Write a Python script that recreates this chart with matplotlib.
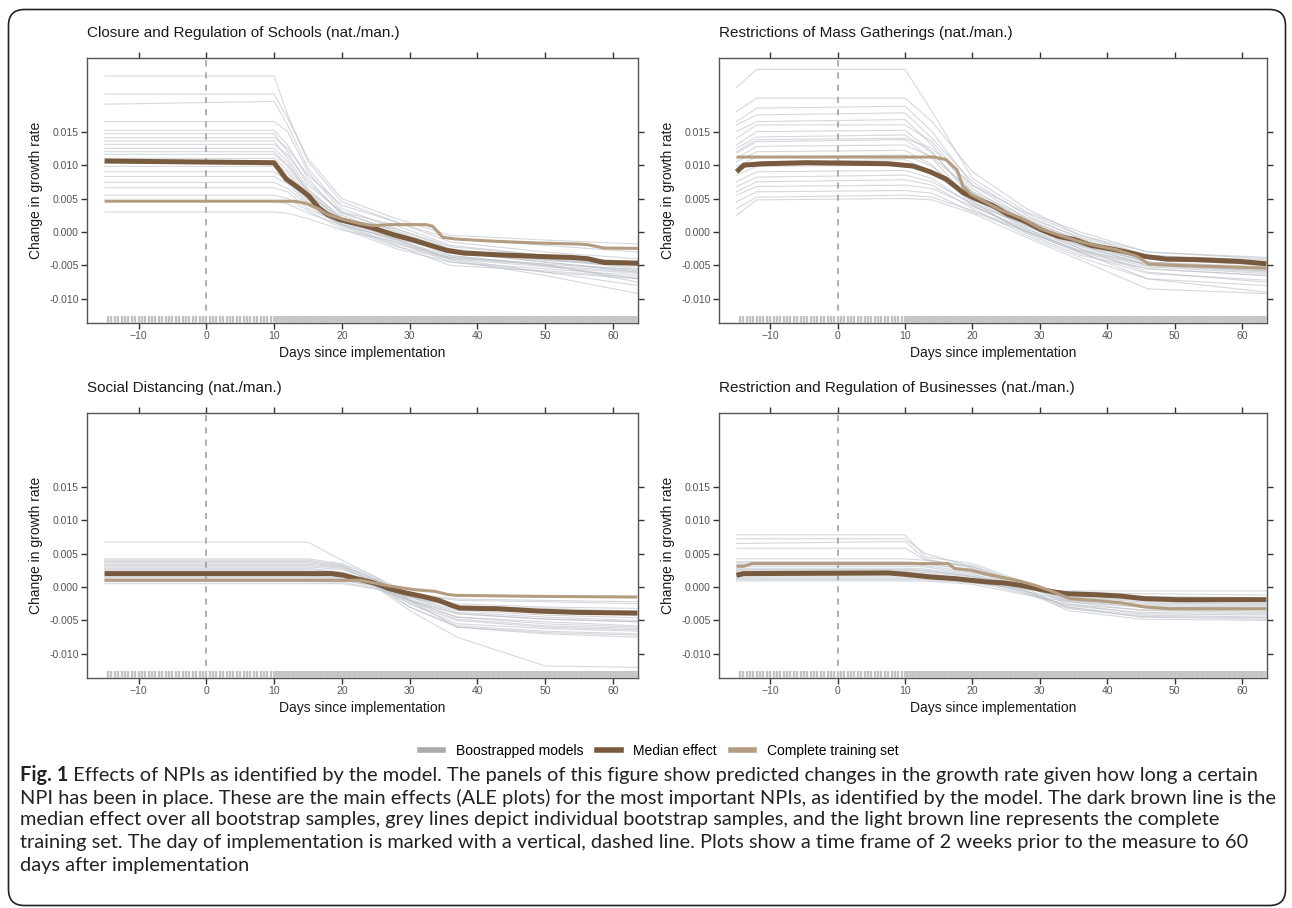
import numpy as np
import matplotlib
matplotlib.use("Agg")
import matplotlib.pyplot as plt
from matplotlib.lines import Line2D
from matplotlib.patches import FancyBboxPatch
from matplotlib.ticker import FormatStrFormatter

# ---------------- data ----------------
titles = ["Closure and Regulation of Schools (nat./man.)",
          "Restrictions of Mass Gatherings (nat./man.)",
          "Social Distancing (nat./man.)",
          "Restriction and Regulation of Businesses (nat./man.)"]

# Panel 1: Schools
med1_x = [-15, 10, 11.8, 13.6, 15.1, 16.6, 17.9, 19.7, 22.1, 24.6, 27.6, 30.7, 33.1, 35.5, 38, 42.9, 49, 53.8, 56.3, 58.7, 63.7]
med1_y = [0.0106, 0.01035, 0.0079, 0.0066, 0.0054, 0.0036, 0.0026, 0.00185, 0.00125, 0.0006, -0.0004, -0.00125, -0.002, -0.00275, -0.00315, -0.0034, -0.00365, -0.0038, -0.004, -0.00455, -0.00465]
cmp1_x = [-15, 13, 14.8, 16.6, 17.9, 20.3, 22.7, 24.6, 27, 32.5, 33.4, 34.9, 36.8, 42.9, 49, 55, 56.3, 58.7, 63.7]
cmp1_y = [0.0046, 0.0046, 0.00425, 0.00345, 0.0026, 0.00185, 0.00125, 0.00095, 0.0011, 0.0011, 0.00085, -0.0008, -0.00105, -0.0014, -0.00165, -0.0018, -0.0019, -0.0024, -0.00245]
boot1_days = [-15, 10, 12, 15, 20, 28, 36, 50, 63.7]
boot1 = [
    [0.0233, 0.0233, 0.0175, 0.0105, 0.0045, 0.0015, -0.0010, -0.0020, -0.0030],
    [0.0206, 0.0206, 0.0170, 0.0110, 0.0050, 0.0020, -0.0005, -0.0012, -0.0018],
    [0.0191, 0.0195, 0.0160, 0.0095, 0.0035, 0.0005, -0.0025, -0.0040, -0.0055],
    [0.0165, 0.0165, 0.0150, 0.0090, 0.0030, 0.0000, -0.0030, -0.0045, -0.0060],
    [0.0152, 0.0152, 0.0130, 0.0080, 0.0025, -0.0005, -0.0035, -0.0050, -0.0070],
    [0.0147, 0.0147, 0.0120, 0.0070, 0.0030, 0.0010, -0.0020, -0.0035, -0.0045],
    [0.0141, 0.0141, 0.0125, 0.0085, 0.0040, 0.0015, -0.0015, -0.0030, -0.0040],
    [0.0136, 0.0136, 0.0110, 0.0065, 0.0020, -0.0010, -0.0040, -0.0060, -0.0080],
    [0.0131, 0.0131, 0.0115, 0.0075, 0.0028, 0.0002, -0.0028, -0.0042, -0.0052],
    [0.0125, 0.0125, 0.0105, 0.0060, 0.0018, -0.0012, -0.0042, -0.0065, -0.0092],
    [0.0120, 0.0120, 0.0100, 0.0062, 0.0022, -0.0003, -0.0030, -0.0045, -0.0058],
    [0.0116, 0.0116, 0.0098, 0.0058, 0.0015, -0.0015, -0.0045, -0.0055, -0.0065],
    [0.0110, 0.0110, 0.0092, 0.0055, 0.0020, 0.0005, -0.0022, -0.0035, -0.0048],
    [0.0104, 0.0104, 0.0088, 0.0050, 0.0012, -0.0018, -0.0038, -0.0048, -0.0075],
    [0.0098, 0.0098, 0.0082, 0.0048, 0.0018, -0.0006, -0.0032, -0.0040, -0.0050],
    [0.0090, 0.0090, 0.0076, 0.0045, 0.0010, -0.0020, -0.0050, -0.0058, -0.0068],
    [0.0083, 0.0083, 0.0072, 0.0042, 0.0015, -0.0008, -0.0028, -0.0038, -0.0045],
    [0.0074, 0.0074, 0.0065, 0.0040, 0.0008, -0.0022, -0.0040, -0.0052, -0.0062],
    [0.0066, 0.0066, 0.0060, 0.0035, 0.0012, -0.0012, -0.0036, -0.0048, -0.0056],
    [0.0055, 0.0055, 0.0050, 0.0032, 0.0005, -0.0025, -0.0045, -0.0060, -0.0070],
    [0.0047, 0.0047, 0.0042, 0.0028, 0.0010, -0.0010, -0.0030, -0.0042, -0.0050],
    [0.0030, 0.0030, 0.0028, 0.0020, 0.0003, -0.0015, -0.0038, -0.0050, -0.0060],
]

# Panel 2: Mass gatherings
med2_x = [-15, -13.9, -10.9, -4.7, 7.5, 11.2, 13.7, 16.1, 18.6, 20.4, 22.9, 25.3, 27.8, 30.2, 32.7, 35.2, 37.6, 40.7, 43.1, 45.6, 48.7, 53.6, 59.7, 63.6]
med2_y = [0.0090, 0.0100, 0.0102, 0.01035, 0.0102, 0.00985, 0.0090, 0.0079, 0.0059, 0.0050, 0.0040, 0.0026, 0.0016, 0.00035, -0.00065, -0.00115, -0.0020, -0.00255, -0.00305, -0.00365, -0.00405, -0.00415, -0.0044, -0.00475]
cmp2_x = [-15, 14.3, 16.1, 17.7, 18.6, 19.8, 21.7, 24.1, 27.2, 30.2, 32.7, 35.8, 38.2, 41.3, 44.4, 46.2, 50.5, 63.6]
cmp2_y = [0.0112, 0.0112, 0.0108, 0.0093, 0.0068, 0.0056, 0.0046, 0.0033, 0.0021, 0.00045, -0.0004, -0.0014, -0.0020, -0.00265, -0.00365, -0.0048, -0.0050, -0.0054]
boot2_days = [-15, -12, 10, 14, 20, 28, 36, 46, 63.6]
boot2 = [
    [0.0216, 0.0243, 0.0243, 0.0180, 0.0080, 0.0030, 0.0000, -0.0030, -0.0040],
    [0.0180, 0.0200, 0.0200, 0.0165, 0.0090, 0.0035, -0.0005, -0.0035, -0.0045],
    [0.0165, 0.0185, 0.0188, 0.0150, 0.0070, 0.0020, -0.0015, -0.0045, -0.0055],
    [0.0160, 0.0175, 0.0178, 0.0140, 0.0075, 0.0025, -0.0010, -0.0040, -0.0050],
    [0.0150, 0.0165, 0.0168, 0.0130, 0.0060, 0.0010, -0.0025, -0.0060, -0.0075],
    [0.0140, 0.0160, 0.0160, 0.0135, 0.0065, 0.0015, -0.0020, -0.0050, -0.0060],
    [0.0130, 0.0150, 0.0152, 0.0120, 0.0050, 0.0005, -0.0030, -0.0070, -0.0090],
    [0.0125, 0.0142, 0.0145, 0.0118, 0.0058, 0.0018, -0.0012, -0.0038, -0.0048],
    [0.0118, 0.0135, 0.0138, 0.0110, 0.0045, -0.0002, -0.0035, -0.0055, -0.0065],
    [0.0110, 0.0128, 0.0130, 0.0112, 0.0060, 0.0022, -0.0008, -0.0035, -0.0042],
    [0.0105, 0.0120, 0.0122, 0.0100, 0.0040, 0.0000, -0.0028, -0.0052, -0.0062],
    [0.0098, 0.0112, 0.0115, 0.0098, 0.0052, 0.0012, -0.0018, -0.0045, -0.0055],
    [0.0090, 0.0105, 0.0108, 0.0090, 0.0045, 0.0008, -0.0022, -0.0048, -0.0058],
    [0.0085, 0.0098, 0.0100, 0.0088, 0.0048, 0.0015, -0.0015, -0.0040, -0.0048],
    [0.0075, 0.0090, 0.0092, 0.0080, 0.0040, 0.0002, -0.0032, -0.0062, -0.0072],
    [0.0068, 0.0082, 0.0085, 0.0075, 0.0042, 0.0010, -0.0020, -0.0045, -0.0052],
    [0.0060, 0.0075, 0.0078, 0.0070, 0.0035, -0.0005, -0.0038, -0.0070, -0.0080],
    [0.0055, 0.0068, 0.0070, 0.0065, 0.0038, 0.0005, -0.0025, -0.0050, -0.0058],
    [0.0045, 0.0060, 0.0062, 0.0058, 0.0030, 0.0000, -0.0030, -0.0055, -0.0065],
    [0.0035, 0.0052, 0.0055, 0.0052, 0.0032, 0.0002, -0.0028, -0.0048, -0.0056],
    [0.0025, 0.0048, 0.0050, 0.0048, 0.0028, -0.0008, -0.0042, -0.0085, -0.0092],
    [0.0120, 0.0138, 0.0140, 0.0125, 0.0070, 0.0028, -0.0005, -0.0030, -0.0038],
]

# Panel 3: Social distancing
med3_x = [-15, 18.5, 20.3, 22.1, 24.6, 27, 29.5, 31.9, 34.3, 36.2, 37.4, 42.9, 49, 55, 63.6]
med3_y = [0.0020, 0.0020, 0.00175, 0.00125, 0.00065, -0.00025, -0.0009, -0.0014, -0.0020, -0.00275, -0.00315, -0.00325, -0.0036, -0.0038, -0.0039]
cmp3_x = [-15, 22.7, 24.6, 27, 30.7, 33.7, 35.5, 36.8, 49, 63.6]
cmp3_y = [0.0010, 0.0010, 0.00065, 0.00015, -0.0004, -0.00065, -0.0011, -0.00125, -0.0014, -0.0015]
boot3_days = [-15, 15, 20, 25, 30, 37, 50, 63.6]
boot3 = [
    [0.0067, 0.0067, 0.0040, 0.0015, -0.0020, -0.0060, -0.0070, -0.0075],
    [0.0042, 0.0042, 0.0035, 0.0015, -0.0010, -0.0030, -0.0035, -0.0038],
    [0.0038, 0.0038, 0.0032, 0.0010, -0.0020, -0.0045, -0.0055, -0.0060],
    [0.0036, 0.0036, 0.0030, 0.0005, -0.0030, -0.0060, -0.0068, -0.0072],
    [0.0034, 0.0034, 0.0030, 0.0012, -0.0012, -0.0025, -0.0030, -0.0032],
    [0.0032, 0.0032, 0.0028, 0.0008, -0.0025, -0.0050, -0.0060, -0.0064],
    [0.0030, 0.0030, 0.0026, 0.0010, -0.0015, -0.0035, -0.0042, -0.0046],
    [0.0028, 0.0028, 0.0022, 0.0000, -0.0035, -0.0075, -0.0118, -0.0120],
    [0.0026, 0.0026, 0.0022, 0.0008, -0.0018, -0.0040, -0.0048, -0.0052],
    [0.0024, 0.0024, 0.0020, 0.0006, -0.0020, -0.0045, -0.0052, -0.0058],
    [0.0022, 0.0022, 0.0019, 0.0008, -0.0010, -0.0020, -0.0022, -0.0025],
    [0.0020, 0.0020, 0.0018, 0.0004, -0.0022, -0.0048, -0.0058, -0.0062],
    [0.0018, 0.0018, 0.0016, 0.0006, -0.0014, -0.0030, -0.0036, -0.0040],
    [0.0016, 0.0016, 0.0014, 0.0002, -0.0025, -0.0055, -0.0062, -0.0066],
    [0.0014, 0.0014, 0.0013, 0.0005, -0.0012, -0.0028, -0.0032, -0.0036],
    [0.0012, 0.0012, 0.0011, 0.0000, -0.0030, -0.0058, -0.0066, -0.0070],
    [0.0010, 0.0010, 0.0009, 0.0003, -0.0010, -0.0018, -0.0020, -0.0022],
    [0.0008, 0.0008, 0.0007, -0.0002, -0.0020, -0.0040, -0.0048, -0.0052],
    [0.0005, 0.0005, 0.0005, -0.0003, -0.0015, -0.0030, -0.0038, -0.0042],
    [0.0040, 0.0040, 0.0033, 0.0012, -0.0015, -0.0038, -0.0045, -0.0050],
]

# Panel 4: Businesses
med4_x = [-15, -13.9, 7.5, 10, 13.7, 17.4, 19.8, 22.3, 24.7, 27.2, 29.6, 32.1, 33.9, 38.2, 41.9, 45.6, 50.5, 63.6]
med4_y = [0.00175, 0.0020, 0.0021, 0.0019, 0.0015, 0.00125, 0.0010, 0.00075, 0.0006, 0.00025, -0.00025, -0.00075, -0.0010, -0.00115, -0.00135, -0.00175, -0.0019, -0.0019]
cmp4_x = [-15, -13.9, -12.7, 16.4, 17.4, 19.8, 21.7, 24.1, 27.2, 29.6, 32.1, 34.5, 38.2, 41.9, 45.6, 49.3, 63.6]
cmp4_y = [0.0031, 0.0031, 0.0035, 0.0035, 0.00275, 0.0025, 0.0020, 0.0015, 0.00085, 0.00015, -0.00075, -0.00175, -0.0020, -0.00235, -0.0030, -0.00325, -0.00325]
boot4_days = [-15, 10, 13, 20, 27, 34, 45, 63.6]
boot4 = [
    [0.0078, 0.0078, 0.0045, 0.0035, 0.0010, -0.0020, -0.0030, -0.0032],
    [0.0072, 0.0072, 0.0050, 0.0030, 0.0005, -0.0025, -0.0040, -0.0042],
    [0.0065, 0.0068, 0.0042, 0.0028, 0.0002, -0.0030, -0.0045, -0.0048],
    [0.0058, 0.0058, 0.0040, 0.0032, 0.0008, -0.0018, -0.0028, -0.0030],
    [0.0042, 0.0042, 0.0040, 0.0030, 0.0006, -0.0022, -0.0035, -0.0038],
    [0.0038, 0.0038, 0.0036, 0.0025, 0.0000, -0.0035, -0.0048, -0.0050],
    [0.0034, 0.0034, 0.0032, 0.0022, 0.0004, -0.0015, -0.0022, -0.0025],
    [0.0031, 0.0031, 0.0030, 0.0020, -0.0002, -0.0030, -0.0042, -0.0045],
    [0.0028, 0.0028, 0.0027, 0.0018, 0.0003, -0.0012, -0.0018, -0.0020],
    [0.0026, 0.0026, 0.0025, 0.0016, -0.0004, -0.0028, -0.0038, -0.0040],
    [0.0023, 0.0023, 0.0022, 0.0015, 0.0002, -0.0010, -0.0014, -0.0016],
    [0.0021, 0.0021, 0.0020, 0.0012, -0.0006, -0.0032, -0.0044, -0.0046],
    [0.0019, 0.0019, 0.0018, 0.0012, 0.0000, -0.0014, -0.0020, -0.0022],
    [0.0017, 0.0017, 0.0016, 0.0010, -0.0005, -0.0020, -0.0026, -0.0028],
    [0.0015, 0.0015, 0.0014, 0.0009, 0.0001, -0.0008, -0.0010, -0.0012],
    [0.0013, 0.0013, 0.0013, 0.0008, -0.0008, -0.0026, -0.0034, -0.0036],
    [0.0011, 0.0011, 0.0011, 0.0006, -0.0002, -0.0006, -0.0006, -0.0006],
    [0.0009, 0.0009, 0.0009, 0.0004, -0.0010, -0.0022, -0.0030, -0.0032],
    [0.0036, 0.0036, 0.0034, 0.0026, 0.0010, -0.0012, -0.0018, -0.0020],
    [0.0025, 0.0025, 0.0024, 0.0016, 0.0002, -0.0018, -0.0024, -0.0026],
]

# rug of observed days (sparser before day 10, dense afterwards)
rug_days_early = list(np.arange(-14.5, 10.0, 0.5))
rug_days_late = list(np.arange(10.0, 63.75, 0.25))

x_ticks = [-10, 0, 10, 20, 30, 40, 50, 60]
y_ticks = [-0.010, -0.005, 0.000, 0.005, 0.010, 0.015]

legend_labels = ["Boostrapped models", "Median effect", "Complete training set"]

caption_lines = [
    "Effects of NPIs as identified by the model. The panels of this figure show predicted changes in the growth rate given how long a certain",
    "NPI has been in place. These are the main effects (ALE plots) for the most important NPIs, as identified by the model. The dark brown line is the",
    "median effect over all bootstrap samples, grey lines depict individual bootstrap samples, and the light brown line represents the complete",
    "training set. The day of implementation is marked with a vertical, dashed line. Plots show a time frame of 2 weeks prior to the measure to 60",
    "days after implementation",
]

# ---------------- style ----------------
MED_C = "#7a5a3e"
CMP_C = "#b49c81"
BOOT_C = "#b9bfc6"
RUG_C = "#c2c2c2"
plt.rcParams["font.family"] = ["Liberation Sans", "DejaVu Sans"]

W, H = 1292, 908
fig = plt.figure(figsize=(W / 100, H / 100), dpi=100)

rects = [(87, 58, 638, 323), (719, 58, 1267, 323), (87, 413, 638, 678), (719, 413, 1267, 678)]
panels = [
    (boot1_days, boot1, med1_x, med1_y, cmp1_x, cmp1_y),
    (boot2_days, boot2, med2_x, med2_y, cmp2_x, cmp2_y),
    (boot3_days, boot3, med3_x, med3_y, cmp3_x, cmp3_y),
    (boot4_days, boot4, med4_x, med4_y, cmp4_x, cmp4_y),
]

for (l, t, r, b), title, (bd, bl, mx, my, cx, cy) in zip(rects, titles, panels):
    ax = fig.add_axes([l / W, 1 - b / H, (r - l) / W, (b - t) / H])
    for line in bl:
        ax.plot(bd, line, color=BOOT_C, lw=0.8, alpha=0.6, zorder=1)
    ax.axvline(0, color="#9a9a9a", lw=1.1, ls=(0, (4, 4)), zorder=2)
    ax.plot(mx, my, color=MED_C, lw=3.6, zorder=3, solid_capstyle="butt")
    ax.plot(cx, cy, color=CMP_C, lw=2.2, zorder=4, solid_capstyle="butt")
    ax.vlines(rug_days_early, 0, 0.028, transform=ax.get_xaxis_transform(),
              color=RUG_C, lw=1.7, zorder=5)
    ax.vlines(rug_days_late, 0, 0.028, transform=ax.get_xaxis_transform(),
              color=RUG_C, lw=1.3, zorder=5)
    ax.set_xlim(-17.6, 63.7)
    ax.set_ylim(-0.0136, 0.026)
    ax.set_xticks(x_ticks)
    ax.set_yticks(y_ticks)
    ax.yaxis.set_major_formatter(FormatStrFormatter("%.3f"))
    ax.tick_params(axis="both", direction="out", length=4, width=1, color="#333333",
                   labelsize=7.5, labelcolor="#555555", top=True, right=True,
                   labeltop=False, labelright=False, pad=2)
    for sp in ax.spines.values():
        sp.set_color("#555555")
        sp.set_linewidth(1.0)
    ax.set_xlabel("Days since implementation", fontsize=10, color="#1a1a1a")
    ax.set_ylabel("Change in growth rate", fontsize=10, color="#1a1a1a")
    ax.xaxis.set_label_coords(0.5, -0.085)
    ax.yaxis.set_label_coords(-0.08, 0.5)
    fig.text(l / W, 1 - (t - 25) / H, title, fontsize=11, color="#1a1a1a",
             ha="left", va="center")

# legend
handles = [Line2D([0], [0], color="#aaaaaa", lw=4),
           Line2D([0], [0], color=MED_C, lw=4),
           Line2D([0], [0], color=CMP_C, lw=4)]
fig.legend(handles, legend_labels, loc="center", bbox_to_anchor=(659 / W, 1 - 751 / H),
           ncol=3, frameon=False, fontsize=10, handlelength=1.7, columnspacing=1.0,
           handletextpad=0.9)

# caption
fig.canvas.draw()
renderer = fig.canvas.get_renderer()
cap_font = ["Lato", "DejaVu Sans"]
x0 = 20
line_right = [1254, 1249, 1232, 1250]
probe_b = fig.text(0, 0, "Fig. 1", fontsize=12, fontweight="bold", family=cap_font)
wb = probe_b.get_window_extent(renderer).width
probe_b.remove()
ratios = []
for i, (txt, rr) in enumerate(zip(caption_lines[:4], line_right)):
    p = fig.text(0, 0, (" " + txt) if i == 0 else txt, fontsize=12, family=cap_font)
    w = p.get_window_extent(renderer).width + (wb if i == 0 else 0)
    p.remove()
    ratios.append((rr - x0) / w)
fs = 12 * float(np.mean(ratios))
wb_fs = wb * fs / 12
line_y = [775, 797.5, 820, 842.5, 865]
fig.text(x0 / W, 1 - line_y[0] / H, "Fig. 1", fontsize=fs, fontweight="bold",
         family=cap_font, ha="left", va="center", color="#222222")
fig.text((x0 + wb_fs) / W, 1 - line_y[0] / H, " " + caption_lines[0], fontsize=fs,
         family=cap_font, ha="left", va="center", color="#222222")
for yy, txt in zip(line_y[1:], caption_lines[1:]):
    fig.text(x0 / W, 1 - yy / H, txt, fontsize=fs, family=cap_font,
             ha="left", va="center", color="#222222")

# outer rounded frame
frame = FancyBboxPatch((0.085, 0.025), 12.77, 8.96,
                       boxstyle="round,pad=0,rounding_size=0.16",
                       transform=fig.dpi_scale_trans, fill=False,
                       edgecolor="#222222", lw=1.2)
fig.patches.append(frame)

fig.savefig("out.png", dpi=100)
